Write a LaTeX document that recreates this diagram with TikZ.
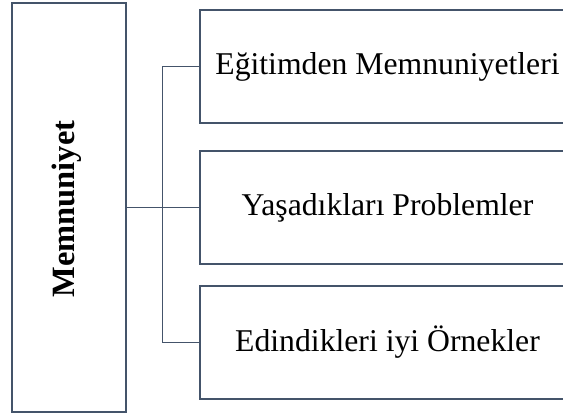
\documentclass[tikz,border=0pt]{standalone}
\usepackage{fontspec}
\setmainfont{Liberation Serif}
\usepackage{tikz}

\definecolor{slate}{HTML}{44546A}

\begin{document}
\begin{tikzpicture}[x = 1pt, y = -1pt, line width = 1.5pt,
  box/.style = {draw = slate, minimum width = 375pt, minimum height = 113pt, inner sep = 0pt, font = \fontsize{31.7}{36}\selectfont},
  link/.style = {draw = slate}, ]
\useasboundingbox (0, 0) rectangle (563, 416);
% Draw main box with rotated title
\node[draw = slate, minimum width = 114pt, minimum height = 409pt, inner sep = 0pt] (main) at (69, 207.5) {};
\node[rotate = 90, font = \fontsize{32.5}{36}\selectfont\bfseries] (title) at (67, 209) {Memnuniyet};


\node[box] (egitim) at (387.5, 66.5) {Eğitimden Memnuniyetleri};
\node[box] (sorun) at (387.5, 207.5) {Yaşadıkları Problemler};
\node[box] (ornek) at (387.5, 342.3) {Edindikleri iyi Örnekler};


% Draw connectors
\coordinate (junction) at (162.5, 207.5);
\draw[link] (main.east) -- (sorun.west);
\draw[link] (egitim.west) -| (junction) |- (ornek.west);

\end{tikzpicture}
\end{document}
